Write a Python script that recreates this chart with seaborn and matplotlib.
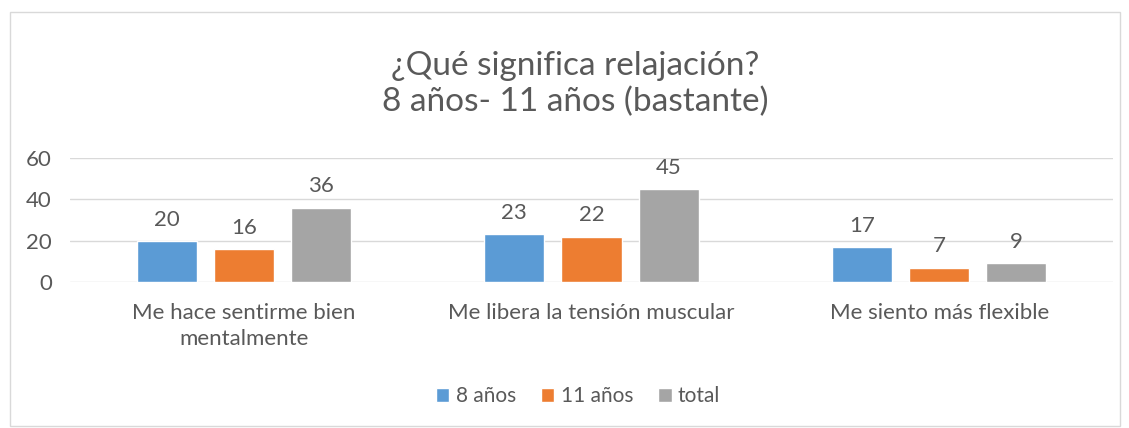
import pandas as pd
import matplotlib
matplotlib.use("Agg")
import matplotlib.pyplot as plt
from matplotlib.patches import Rectangle
import seaborn as sns

categories = ["Me hace sentirme bien\nmentalmente", "Me libera la tensión muscular", "Me siento más flexible"]
series = ["8 años", "11 años", "total"]
vals_8 = [20, 23, 17]
vals_11 = [16, 22, 7]
vals_total = [36, 45, 9]
colors = ["#5B9BD5", "#ED7D31", "#A5A5A5"]
title = "¿Qué significa relajación?\n8 años- 11 años (bastante)"

df = pd.DataFrame({
    "cat": categories * 3,
    "serie": [s for s in series for _ in categories],
    "val": vals_8 + vals_11 + vals_total,
})

sns.set_theme(style="white")
plt.rcParams["font.family"] = ["Lato", "DejaVu Sans"]
txt = "#595959"

fig = plt.figure(figsize=(11.29, 4.28), dpi=100)
ax = fig.add_axes([70 / 1129, 1 - 282 / 428, (1113 - 70) / 1129, 124 / 428])
sns.barplot(data=df, x="cat", y="val", hue="serie", palette=colors, width=0.666, gap=0.22,
            saturation=1, ax=ax, legend=True)
for cont in ax.containers:
    ax.bar_label(cont, padding=8, fontsize=16, color=txt)

ax.set_xlim(-0.5, 2.5)
ax.set_ylim(0, 60)
ax.set_yticks([0, 20, 40, 60])
ax.yaxis.grid(True, color="#D9D9D9", lw=1)
ax.set_axisbelow(True)
for s in ax.spines.values():
    s.set_visible(False)
ax.set_xlabel(""); ax.set_ylabel("")
ax.tick_params(axis="both", length=0, labelsize=16, labelcolor=txt)
ax.tick_params(axis="x", pad=15)
ax.tick_params(axis="y", pad=13)
for lbl in ax.get_xticklabels():
    lbl.set_linespacing(1.4)

handles, labels = ax.get_legend_handles_labels()
ax.legend(handles, labels, loc="center", bbox_to_anchor=(578 / 1129, 1 - 396 / 428),
          bbox_transform=fig.transFigure, ncol=3, frameon=False, fontsize=15,
          handlelength=0.65, handleheight=0.65, handletextpad=0.3, columnspacing=1.2,
          labelcolor=txt)

fig.text(575 / 1129, 1 - 84 / 428, title, ha="center", va="center", fontsize=24,
         color=txt, linespacing=1.25)
fig.patches.append(Rectangle((10 / 1129, 2 / 428), 1110 / 1129, 414 / 428, transform=fig.transFigure,
                             fill=False, edgecolor="#D9D9D9", lw=1))
fig.savefig("out.png", dpi=100)
